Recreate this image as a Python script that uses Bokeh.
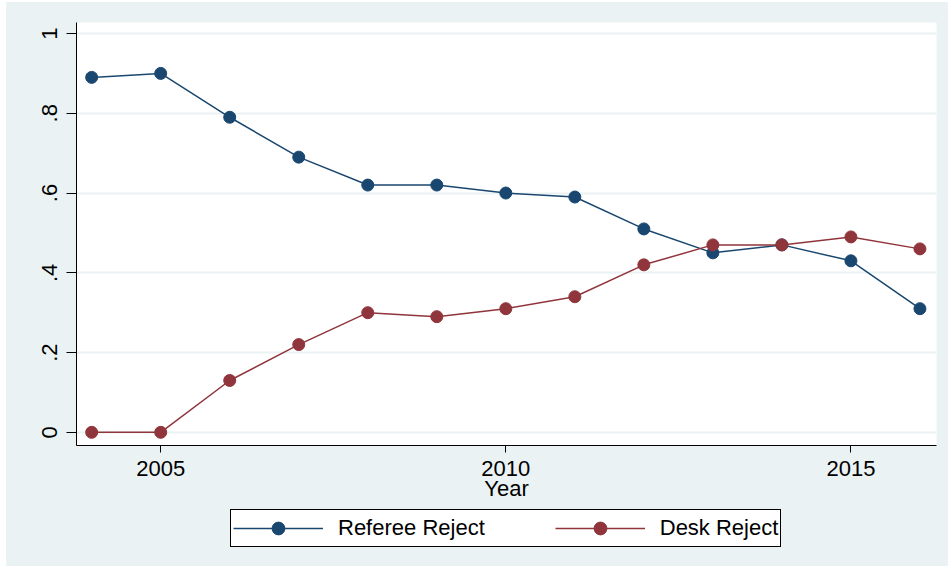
from bokeh.plotting import figure
from bokeh.layouts import column
from bokeh.models import Legend, LegendItem, FixedTicker, Range1d
from bokeh.embed import file_html
from bokeh.resources import INLINE

years = [2004, 2005, 2006, 2007, 2008, 2009, 2010, 2011, 2012, 2013, 2014, 2015, 2016]
referee_reject = [0.89, 0.90, 0.79, 0.69, 0.62, 0.62, 0.60, 0.59, 0.51, 0.45, 0.47, 0.43, 0.31]
desk_reject = [0.0, 0.0, 0.13, 0.22, 0.30, 0.29, 0.31, 0.34, 0.42, 0.47, 0.47, 0.49, 0.46]
y_ticks = [0, 0.2, 0.4, 0.6, 0.8, 1.0]
y_tick_labels = {0: "0", 0.2: ".2", 0.4: ".4", 0.6: ".6", 0.8: ".8", 1.0: "1"}
x_ticks = [2005, 2010, 2015]
series_names = ["Referee Reject", "Desk Reject"]

NAVY = "#1a476f"
MAROON = "#90353b"
BG = "#eaf2f3"
FONT = "Liberation Sans"
FS = "22px"

p = figure(width=942, height=506, output_backend="svg", toolbar_location=None,
           x_range=Range1d(2003.78, 2016.24), y_range=Range1d(-0.033, 1.0276),
           min_border_left=70, min_border_right=12, min_border_top=20, min_border_bottom=63)
p.background_fill_color = "white"
p.border_fill_color = BG
p.outline_line_color = None

p.line(years, referee_reject, line_color=NAVY, line_width=1.5)
p.scatter(years, referee_reject, size=12, fill_color=NAVY, line_color=NAVY)
p.line(years, desk_reject, line_color=MAROON, line_width=1.5)
p.scatter(years, desk_reject, size=12, fill_color=MAROON, line_color=MAROON)

p.xgrid.grid_line_color = None
p.ygrid.grid_line_color = BG
p.ygrid.grid_line_width = 2
p.ygrid.ticker = FixedTicker(ticks=y_ticks)

p.yaxis.ticker = FixedTicker(ticks=y_ticks)
p.yaxis.major_label_overrides = y_tick_labels
p.yaxis.major_label_orientation = "vertical"
p.yaxis.minor_tick_line_color = None
p.yaxis.major_tick_in = 0
p.yaxis.major_tick_out = 10
p.yaxis.axis_line_color = "black"
p.yaxis.major_tick_line_color = "black"
p.yaxis.major_label_text_font = FONT
p.yaxis.major_label_text_font_size = FS
p.yaxis.major_label_text_color = "black"
p.yaxis.major_label_standoff = 9

p.xaxis.ticker = FixedTicker(ticks=x_ticks)
p.xaxis.minor_tick_line_color = None
p.xaxis.major_tick_in = 0
p.xaxis.major_tick_out = 7
p.xaxis.axis_line_color = "black"
p.xaxis.major_tick_line_color = "black"
p.xaxis.major_label_text_font = FONT
p.xaxis.major_label_text_font_size = FS
p.xaxis.major_label_text_color = "black"
p.xaxis.major_label_standoff = 8
p.xaxis.axis_label = "Year"
p.xaxis.axis_label_text_font = FONT
p.xaxis.axis_label_text_font_size = FS
p.xaxis.axis_label_text_font_style = "normal"
p.xaxis.axis_label_text_color = "black"
p.xaxis.axis_label_standoff = -3

# legend strip (separate figure below the plot; its frame is aligned with the main frame)
q = figure(width=942, height=58, output_backend="svg", toolbar_location=None,
           x_range=Range1d(0, 1), y_range=Range1d(0, 1), min_border=0,
           x_axis_location=None, y_axis_location=None)
q.background_fill_color = BG
q.border_fill_color = BG
q.outline_line_color = None
q.grid.visible = False
dummy_x = [-5, -4]
dummy_y = [-5, -4]
l1 = q.line(dummy_x, dummy_y, line_color=NAVY, line_width=1.5)
s1 = q.scatter(dummy_x, dummy_y, size=12, fill_color=NAVY, line_color=NAVY)
l2 = q.line(dummy_x, dummy_y, line_color=MAROON, line_width=1.5)
s2 = q.scatter(dummy_x, dummy_y, size=12, fill_color=MAROON, line_color=MAROON)

legend = Legend(items=[LegendItem(label=series_names[0], renderers=[l1, s1]),
                       LegendItem(label=series_names[1], renderers=[l2, s2])],
                orientation="horizontal", location=(154, 19),
                label_text_font=FONT, label_text_font_size=FS, label_text_color="black",
                glyph_width=90, glyph_height=32, label_standoff=15, spacing=70,
                padding=2, margin=0, border_line_color="black", border_line_alpha=1.0,
                border_line_width=1,
                background_fill_color="white", background_fill_alpha=1.0)
q.add_layout(legend, "center")

layout = column(p, q, spacing=0, margin=(2, 0, 0, 6),
                styles={"background-color": BG})
open("out.html", "w").write(file_html(layout, INLINE))
